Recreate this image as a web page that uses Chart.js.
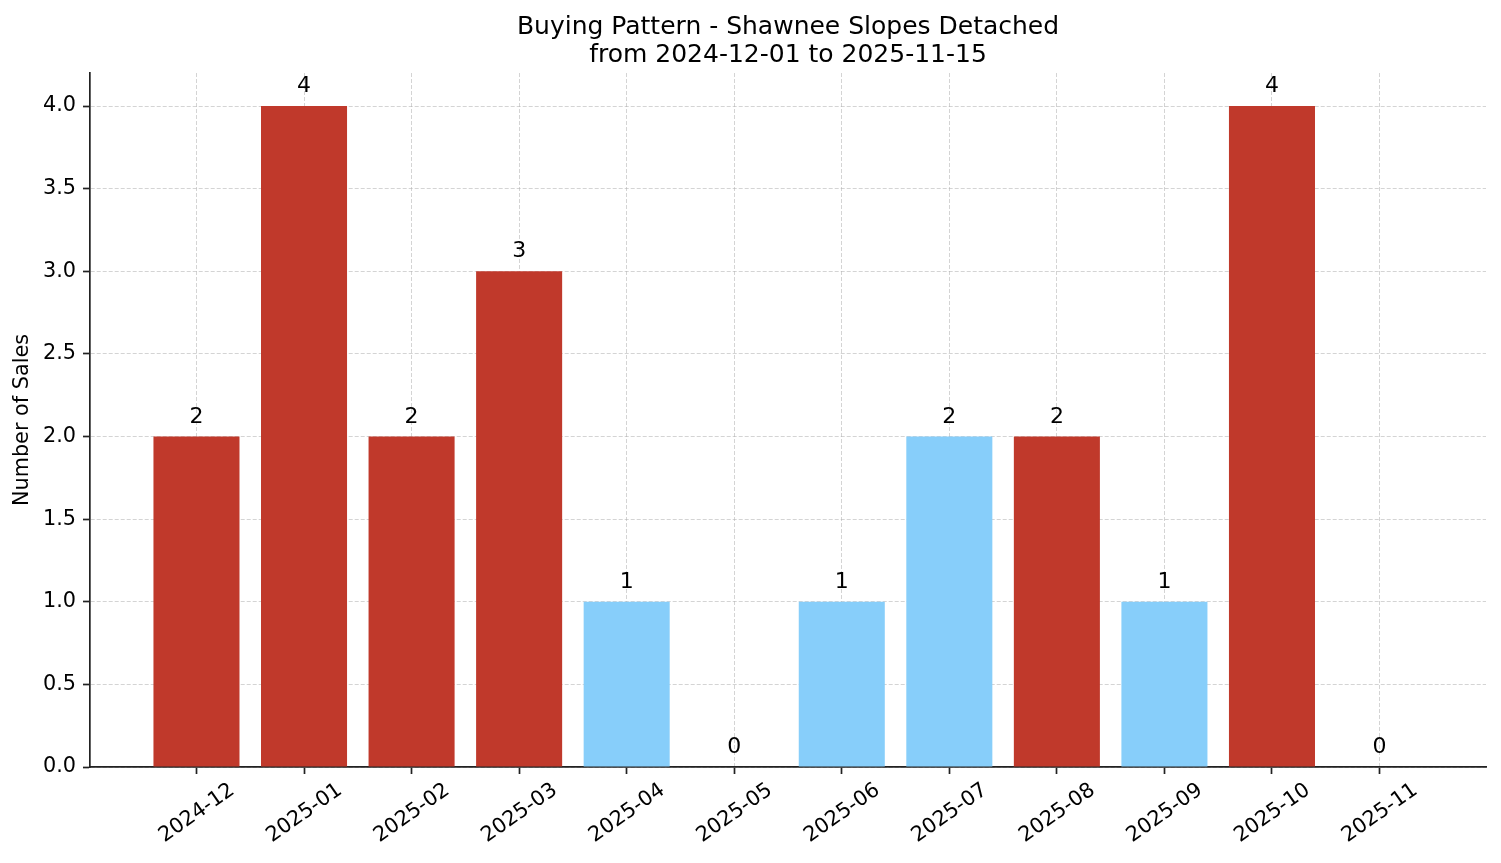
<!DOCTYPE html>
<html>
<head>
<meta charset="utf-8">
<title>Buying Pattern - Shawnee Slopes Detached</title>
<script src="https://cdn.jsdelivr.net/npm/chart.js@4.4.0/dist/chart.umd.min.js"></script>
<style>
    html, body { margin: 0; padding: 0; background: #fff; }
    #wrap { width: 1501px; height: 863px; }
</style>
</head>
<body>
<div id="wrap"><canvas id="chart" width="1501" height="863"></canvas></div>
<script>
// Monthly sales counts
const months = ['2024-12', '2025-01', '2025-02', '2025-03', '2025-04', '2025-05',
                '2025-06', '2025-07', '2025-08', '2025-09', '2025-10', '2025-11'];
const sales = [2, 4, 2, 3, 1, 0, 1, 2, 2, 1, 4, 0];
// true = red bar, false = light blue bar
const highlighted = [true, true, true, true, false, false, false, false, true, false, true, false];
const yTicks = [0, 0.5, 1.0, 1.5, 2.0, 2.5, 3.0, 3.5, 4.0];
const titleLines = ['Buying Pattern - Shawnee Slopes Detached', 'from 2024-12-01 to 2025-11-15'];

const RED = '#c0392b';
const BLUE = '#87cefa';
const GRID = 'rgba(176,176,176,0.55)';
const AXIS = '#222';
const FONT = 'DejaVu Sans';

Chart.defaults.font.family = FONT;
Chart.defaults.color = '#000';

// Value printed above each bar
const valueLabels = {
    id: 'valueLabels',
    afterDraw(chart) {
        const ctx = chart.ctx;
        const meta = chart.getDatasetMeta(0);
        ctx.save();
        ctx.font = '22px "' + FONT + '"';
        ctx.fillStyle = '#000';
        ctx.textAlign = 'center';
        ctx.textBaseline = 'alphabetic';
        meta.data.forEach((bar, i) => {
            ctx.fillText(String(sales[i]), bar.x, bar.y - 14);
        });
        ctx.restore();
    }
};

const gridOpts = {
    color: GRID,
    lineWidth: 1,
    offset: false,
    tickLength: 7,
    tickColor: AXIS,
    tickWidth: 1.7,
    tickBorderDash: []
};
const borderOpts = { display: true, color: AXIS, width: 1.7, dash: [4, 2] };

new Chart(document.getElementById('chart'), {
    type: 'bar',
    data: {
        datasets: [{
            data: sales.map((v, i) => ({ x: i, y: v })),
            backgroundColor: highlighted.map(h => h ? RED : BLUE),
            borderWidth: 0,
            barPercentage: 0.8,
            categoryPercentage: 1.0
        }]
    },
    options: {
        responsive: false,
        devicePixelRatio: 1,
        animation: false,
        layout: { padding: { left: 0, right: 15, top: 0, bottom: 0 }, autoPadding: false },
        plugins: {
            legend: { display: false },
            tooltip: { enabled: false },
            title: {
                display: true,
                fullSize: false,
                text: titleLines,
                color: '#000',
                font: { family: FONT, size: 25, weight: 'normal', lineHeight: 1.1 },
                padding: { top: 14, bottom: 4 }
            }
        },
        scales: {
            x: {
                type: 'linear',
                min: -0.99,
                max: 11.99,
                offset: false,
                z: 1,
                afterBuildTicks: s => { s.ticks = months.map((m, i) => ({ value: i })); },
                afterFit: s => { s.height = 96; },
                ticks: {
                    callback: v => months[v],
                    autoSkip: false,
                    minRotation: 35,
                    maxRotation: 35,
                    labelOffset: 36,
                    padding: 4,
                    color: '#000',
                    font: { family: FONT, size: 20.8 }
                },
                grid: gridOpts,
                border: borderOpts
            },
            y: {
                min: 0,
                max: 4.2,
                z: 1,
                afterBuildTicks: s => { s.ticks = yTicks.map(v => ({ value: v })); },
                afterFit: s => { s.width = 90; },
                ticks: {
                    callback: v => v.toFixed(1),
                    padding: 7,
                    color: '#000',
                    font: { family: FONT, size: 20.8 }
                },
                grid: gridOpts,
                border: borderOpts,
                title: {
                    display: true,
                    text: 'Number of Sales',
                    color: '#000',
                    font: { family: FONT, size: 20.8 },
                    padding: { top: 10, bottom: 0 }
                }
            }
        }
    },
    plugins: [valueLabels]
});
</script>
</body>
</html>
